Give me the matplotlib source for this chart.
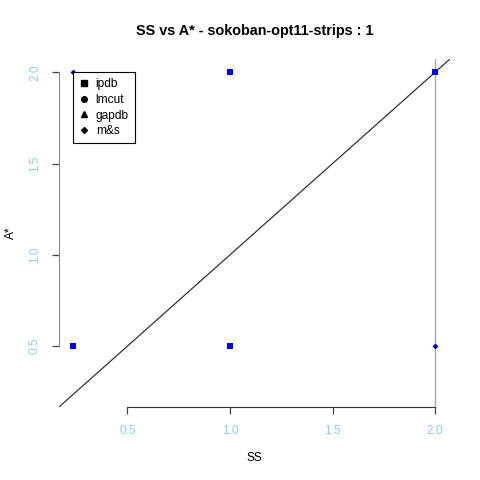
import matplotlib
matplotlib.use("Agg")
import matplotlib.pyplot as plt
from matplotlib.lines import Line2D

plt.rcParams['font.family'] = ['Liberation Sans', 'DejaVu Sans']

title = "SS vs A* - sokoban-opt11-strips : 1"
ipdb_x = [0.234, 1.0, 1.0, 2.0]
ipdb_y = [0.5, 2.0, 0.5, 2.0]
ms_x = [0.234, 2.0]
ms_y = [2.0, 0.5]
ticks = [0.5, 1.0, 1.5, 2.0]
tick_labels = ["0.5", "1.0", "1.5", "2.0"]
legend_names = ["ipdb", "lmcut", "gapdb", "m&s"]
legend_markers = ["s", "o", "^", "D"]
lims = (0.166, 2.073)

fig = plt.figure(figsize=(4.8, 4.8), dpi=100)
ax = fig.add_axes([59/480, 73/480, 391/480, 348/480])
ax.set_xlim(lims)
ax.set_ylim(lims)

ax.axline((0, 0), slope=1, color='#333333', lw=0.9, zorder=1)
ax.axvline(2.0, color='#aaaaaa', lw=1.0, zorder=1)

ax.scatter(ipdb_x, ipdb_y, marker='s', s=22, color='#0000ee', zorder=3, linewidths=0)
ax.scatter(ms_x, ms_y, marker='D', s=9, color='#0000cc', zorder=3, linewidths=0)

for s in ['top', 'right']:
    ax.spines[s].set_visible(False)
ax.spines['bottom'].set_bounds(0.5, 2.0)
ax.spines['left'].set_bounds(0.5, 2.0)
ax.spines['left'].set_color('#888888')
ax.spines['bottom'].set_color('#333333')

ax.set_xticks(ticks)
ax.set_xticklabels(tick_labels)
ax.set_yticks(ticks)
ax.set_yticklabels(tick_labels, rotation=90, va='center')
ax.tick_params(axis='both', direction='out', length=5, width=0.9, color='#444444',
               labelcolor='#87ceeb', labelsize=8.6, pad=8)

ax.set_xlabel("SS", fontsize=8.6)
ax.xaxis.set_label_coords(0.5, (407 - 458) / 348)
ax.xaxis.label.set_va('center')
ax.set_ylabel("A*", fontsize=8.6)
ax.yaxis.set_label_coords((11 - 59) / 391, 0.5)
ax.yaxis.label.set_va('center')
fig.text(0.5 * (59 + 450) / 480, 1 - 31 / 480, title, fontsize=10.4,
         fontweight='bold', ha='center', va='center')

handles = [Line2D([], [], linestyle='none', marker=m, color='black', markersize=4)
           for m in legend_markers]
handles[3].set_markersize(3)
leg = ax.legend(handles, legend_names, loc='upper left',
                bbox_to_anchor=(14/391, 1 - 13/348), borderaxespad=0,
                fancybox=False, framealpha=1, edgecolor='black', fontsize=8.6,
                handlelength=0.8, handletextpad=0.6, labelspacing=0.32,
                borderpad=0.5)
leg.get_frame().set_linewidth(0.8)

fig.savefig("out.png", dpi=100)
